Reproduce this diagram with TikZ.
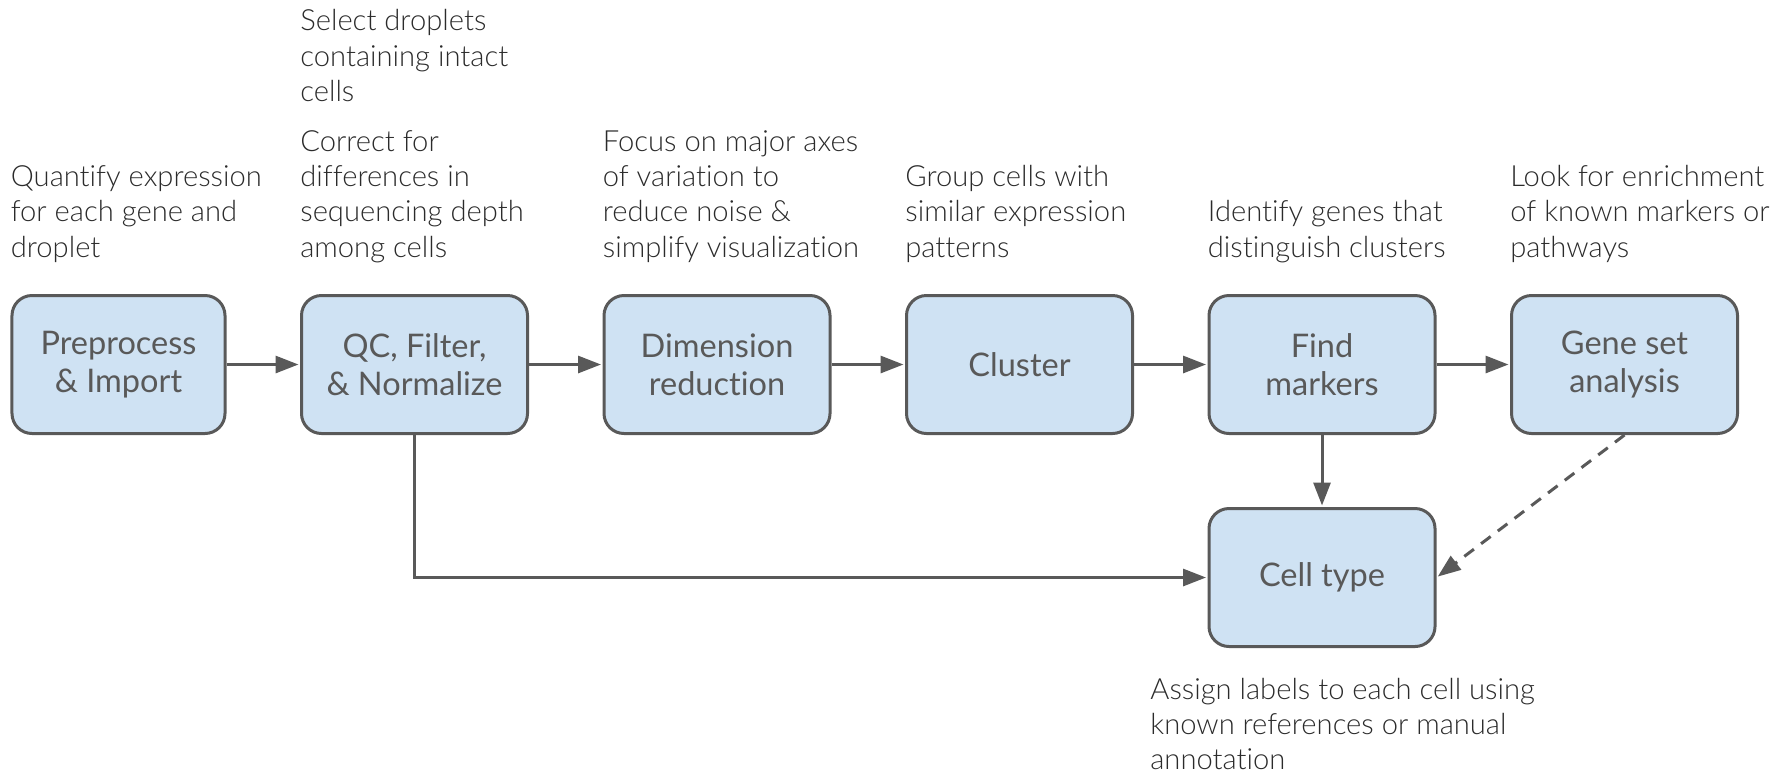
\documentclass[tikz,border=0pt]{standalone}
\usepackage{fontspec}
\setmainfont{Lato}[Ligatures=NoCommon]
\newfontfamily\lightfont{Lato Light}[Ligatures=NoCommon]
\usetikzlibrary{arrows.meta, positioning}

\definecolor{boxfill}{HTML}{CFE2F3}
\definecolor{linegray}{HTML}{595959}
\definecolor{notegray}{HTML}{2B2B2B}

\begin{document}
\begin{tikzpicture}[x=0.2mm, y=-0.2mm, node distance=14.7mm,
 stepbox/.style={rectangle, rounded corners=4mm, draw=linegray, line width=0.6mm,
   fill=boxfill, text=linegray, minimum width=45.2mm, minimum height=27.6mm,
   align=center, font=\fontsize{18.5}{21.4}\selectfont},
 note/.style={align=left, inner sep=0pt, text=notegray,
   font=\lightfont\fontsize{16.6}{20.1}\selectfont,
   execute at begin node=\strut, execute at end node=\strut},
 flow/.style={draw=linegray, line width=0.6mm, shorten >=0.3mm,
   -{Triangle[length=4.6mm,width=3.4mm]}}]
  \useasboundingbox (0,0) rectangle (1787,771);

  % pipeline
  \node[stepbox, minimum width=42.6mm] (prep) at (118.5,364.5) {Preprocess\\\& Import};
  \node[stepbox] (qc) [right=of prep] {QC, Filter,\\\& Normalize};
  \node[stepbox] (dimred) [right=of qc] {Dimension\\reduction};
  \node[stepbox] (clust) [right=of dimred] {Cluster};
  \node[stepbox] (markers) [right=of clust] {Find\\markers};
  \node[stepbox] (geneset) [right=of markers] {Gene set\\analysis};
  \node[stepbox] (celltype) [below=14.4mm of markers] {Cell type};

  % notes
  \node[note, anchor=south west] (prepnote) at ([yshift=5.2mm]prep.north west)
    {Quantify expression\\for each gene and\\droplet};
  \node[note, anchor=south west] (qcnote) at ([yshift=5.2mm]qc.north west)
    {Correct for\\differences in\\sequencing depth\\among cells};
  \node[note, above=3.5mm of qcnote.north west, anchor=south west] (selnote)
    {Select droplets\\containing intact\\cells};
  \node[note, anchor=south west] (dimnote) at ([yshift=5.2mm]dimred.north west)
    {Focus on major axes\\of variation to\\reduce noise \&\\simplify visualization};
  \node[note, anchor=south west] (clustnote) at ([yshift=5.2mm]clust.north west)
    {Group cells with\\similar expression\\patterns};
  \node[note, anchor=south west] (markernote) at ([yshift=5.2mm]markers.north west)
    {Identify genes that\\distinguish clusters};
  \node[note, anchor=south west] (genenote) at ([yshift=5.2mm]geneset.north west)
    {Look for enrichment\\of known markers or\\pathways};
  \node[note, anchor=north west, execute at end node={}] (cellnote)
    at ([xshift=-11.5mm,yshift=-5.9mm]celltype.south west)
    {Assign labels to each cell using\\known references or manual\\annotation};

  \foreach \s/\t in {prep/qc, qc/dimred, dimred/clust, clust/markers,
    markers/geneset, markers/celltype} {
   \draw[flow] (\s) -- (\t);}
  \draw[flow] (qc.south) |- (celltype.west);
  \draw[flow, dash pattern=on 2.4mm off 1.8mm] (geneset.south) -- (celltype.east);
\end{tikzpicture}
\end{document}
